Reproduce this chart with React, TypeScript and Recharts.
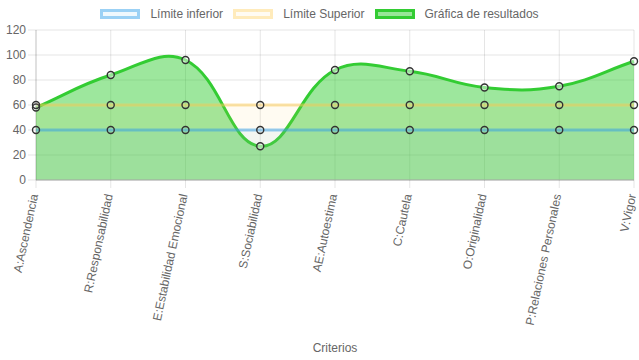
import React from 'react';
import { AreaChart, Area, XAxis, YAxis, CartesianGrid } from 'recharts';

const categorias = [
  'A:Ascendencia',
  'R:Responsabilidad',
  'E:Estabilidad Emocional',
  'S:Sociabilidad',
  'AE:Autoestima',
  'C:Cautela',
  'O:Originalidad',
  'P:Relaciones Personales',
  'V:Vigor',
];
const limiteInferior = [40, 40, 40, 40, 40, 40, 40, 40, 40];
const limiteSuperior = [60, 60, 60, 60, 60, 60, 60, 60, 60];
const resultados = [58, 84, 96, 27, 88, 87, 74, 75, 95];
const yTicks = [0, 20, 40, 60, 80, 100, 120];

const data = categorias.map((c, i) => ({
  name: c,
  inferior: limiteInferior[i],
  superior: limiteSuperior[i],
  resultados: resultados[i],
}));

const FONT = "Arial, 'Liberation Sans', Helvetica, sans-serif";
const TEXT = '#666';

// same spline as chart.js (tension 0.4), so the curve overshoots like the original
const splineCurve = (context: any) => {
  let pts: [number, number][] = [];
  let line = NaN;
  const tension = 0.4;
  return {
    areaStart() { line = 0; },
    areaEnd() { line = NaN; },
    lineStart() { pts = []; },
    point(x: number, y: number) { pts.push([+x, +y]); },
    lineEnd() {
      const n = pts.length;
      if (n) {
        if (line) context.lineTo(pts[0][0], pts[0][1]);
        else context.moveTo(pts[0][0], pts[0][1]);
        const cps = pts.map((p, i) => {
          const prev = pts[Math.max(i - 1, 0)];
          const next = pts[Math.min(i + 1, n - 1)];
          const d01 = Math.hypot(p[0] - prev[0], p[1] - prev[1]);
          const d12 = Math.hypot(next[0] - p[0], next[1] - p[1]);
          let s01 = d01 / (d01 + d12);
          let s12 = d12 / (d01 + d12);
          if (isNaN(s01)) s01 = 0;
          if (isNaN(s12)) s12 = 0;
          const fa = tension * s01;
          const fb = tension * s12;
          return {
            px: p[0] - fa * (next[0] - prev[0]),
            py: p[1] - fa * (next[1] - prev[1]),
            nx: p[0] + fb * (next[0] - prev[0]),
            ny: p[1] + fb * (next[1] - prev[1]),
          };
        });
        for (let i = 1; i < n; i++) {
          context.bezierCurveTo(cps[i - 1].nx, cps[i - 1].ny, cps[i].px, cps[i].py, pts[i][0], pts[i][1]);
        }
      }
      if (line || (line !== 0 && n === 1)) context.closePath();
      line = 1 - line;
    },
  };
};

const AngledTick = ({ x, y, payload }: any) => (
  <g transform={`translate(${x - 2},${y + 4})`}>
    <text transform="rotate(-78)" textAnchor="end" dy="0.35em" fill={TEXT} fontSize={12} fontFamily={FONT}>
      {payload.value}
    </text>
  </g>
);

const legendItems = [
  { label: 'Límite inferior', border: 'rgba(54,162,235,0.45)', bg: 'rgba(54,162,235,0.08)' },
  { label: 'Límite Superior', border: 'rgba(255,205,86,0.35)', bg: 'rgba(255,205,86,0.08)' },
  { label: 'Gráfica de resultados', border: '#33cc33', bg: '#98e698' },
];

const dotStyle = { r: 3.5, fill: '#fff', stroke: '#333', strokeWidth: 1.4 };

export default function App() {
  return (
    <div style={{ position: 'absolute', left: 0, top: 0, width: 639, height: 360, background: '#fff' }}>
      <div
        style={{
          position: 'absolute', top: 7, left: 0, width: 639, display: 'flex', justifyContent: 'center',
          fontFamily: FONT, fontSize: 12, color: TEXT, gap: 10,
        }}
      >
        {legendItems.map((it) => (
          <div key={it.label} style={{ display: 'flex', alignItems: 'center' }}>
            <span
              style={{
                display: 'inline-block', width: 40, height: 10, boxSizing: 'border-box',
                border: `3px solid ${it.border}`, background: it.bg, marginRight: 10,
              }}
            />
            <span>{it.label}</span>
          </div>
        ))}
      </div>
      <AreaChart width={639} height={360} data={data} margin={{ top: 30, right: 5, left: 0, bottom: 0 }}>
        <CartesianGrid stroke="rgba(0,0,0,0.1)" />
        <XAxis
          dataKey="name"
          height={180}
          interval={0}
          tick={<AngledTick />}
          tickSize={8}
          tickLine={{ stroke: 'rgba(0,0,0,0.1)' }}
          axisLine={{ stroke: '#aaa' }}
          label={{ value: 'Criterios', position: 'insideBottom', offset: 8, fill: TEXT, fontSize: 12, fontFamily: FONT }}
        />
        <YAxis
          width={36}
          domain={[0, 120]}
          ticks={yTicks}
          interval={0}
          tickSize={8}
          tickLine={{ stroke: 'rgba(0,0,0,0.1)' }}
          axisLine={{ stroke: 'rgba(0,0,0,0.15)' }}
          tick={{ fill: TEXT, fontSize: 12, fontFamily: FONT }}
        />
        <Area
          dataKey="resultados"
          type={splineCurve as any}
          stroke="#33cc33"
          strokeWidth={3}
          fill="rgb(50,205,50)"
          fillOpacity={0.48}
          dot={dotStyle}
          activeDot={false}
          isAnimationActive={false}
        />
        <Area
          dataKey="superior"
          type="linear"
          stroke="rgba(255,205,86,0.5)"
          strokeWidth={3}
          fill="rgb(255,205,86)"
          fillOpacity={0.08}
          dot={dotStyle}
          activeDot={false}
          isAnimationActive={false}
        />
        <Area
          dataKey="inferior"
          type="linear"
          stroke="rgba(54,162,235,0.5)"
          strokeWidth={3}
          fill="rgb(54,162,235)"
          fillOpacity={0.06}
          dot={dotStyle}
          activeDot={false}
          isAnimationActive={false}
        />
      </AreaChart>
    </div>
  );
}
